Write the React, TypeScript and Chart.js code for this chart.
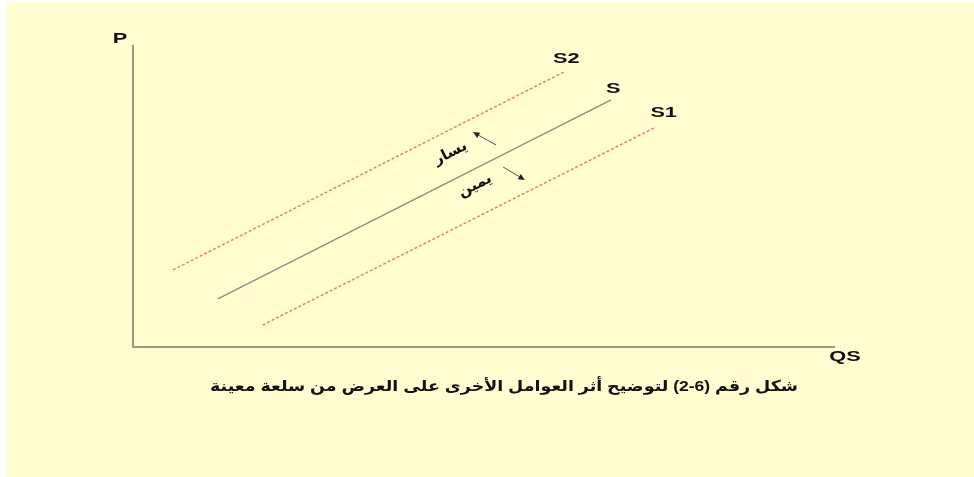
import { useEffect, useRef } from "react";
import { Chart, registerables } from "chart.js";

Chart.register(...registerables);

// ---- Data ----
const curveNames = ["S2", "S", "S1"];
const curveQStart = [5.7, 12.1, 18.5];
const curveQEnd = [61.5, 68.2, 74.6];
const curvePStart = [25.6, 16.0, 7.3];
const curvePEnd = [91.4, 82.1, 73.1];
const curveLabelQ = [61.8, 68.5, 75.7];
const curveLabelP = [95.7, 85.7, 77.7];

const shiftTexts = ["يسار", "يمين"];
const shiftTextQ = [45.3, 48.8];
const shiftTextP = [64.4, 53.6];
const arrowFromQ = [51.8, 52.8];
const arrowFromP = [67.1, 59.8];
const arrowToQ = [48.5, 55.9];
const arrowToP = [71.4, 55.5];

const axisTitleX = "QS";
const axisTitleY = "P";
const caption = "شكل رقم (6-2) لتوضيح أثر العوامل الأخرى على العرض من سلعة معينة";

const BG = "#FFFDD0";
const AXIS_COLOR = "#9a9a88";
const SOLID_COLOR = "#8c8c82";
const SHIFT_COLOR = "#f47c6c";

function drawText(
  ctx: CanvasRenderingContext2D,
  text: string,
  x: number,
  y: number,
  font: string,
  sx: number,
  color: string,
  rot = 0,
  rtl = false,
  align: CanvasTextAlign = "center"
) {
  ctx.save();
  ctx.translate(x, y);
  ctx.rotate(rot);
  ctx.scale(sx, 1);
  ctx.font = font;
  ctx.fillStyle = color;
  ctx.textAlign = align;
  ctx.textBaseline = "middle";
  (ctx as any).direction = rtl ? "rtl" : "ltr";
  ctx.fillText(text, 0, 0);
  ctx.restore();
}

const annotationPlugin = {
  id: "annotations",
  afterDatasetsDraw(chart: any) {
    const ctx: CanvasRenderingContext2D = chart.ctx;
    const xs = chart.scales.x;
    const ys = chart.scales.y;
    const area = chart.chartArea;
    const latin = "bold 14px Arial, 'Liberation Sans', sans-serif";

    // curve labels
    curveNames.forEach((n, i) => {
      drawText(ctx, n, xs.getPixelForValue(curveLabelQ[i]), ys.getPixelForValue(curveLabelP[i]), latin, 1.55, "#111");
    });

    // axis titles
    drawText(ctx, axisTitleY, area.left - 13, area.top - 7, "bold 15px Arial, 'Liberation Sans', sans-serif", 1.45, "#111");
    drawText(ctx, axisTitleX, area.right + 11, area.bottom + 10, "bold 15px Arial, 'Liberation Sans', sans-serif", 1.45, "#111");

    // slope angle of S line
    const dx = xs.getPixelForValue(curveQEnd[1]) - xs.getPixelForValue(curveQStart[1]);
    const dy = ys.getPixelForValue(curvePEnd[1]) - ys.getPixelForValue(curvePStart[1]);
    const ang = Math.atan2(dy, dx);

    // shift labels
    shiftTexts.forEach((t, i) => {
      drawText(ctx, t, xs.getPixelForValue(shiftTextQ[i]), ys.getPixelForValue(shiftTextP[i]), "bold 15px 'DejaVu Sans', sans-serif", 1, "#111", ang, true);
    });

    // arrows
    arrowFromQ.forEach((_, i) => {
      const x1 = xs.getPixelForValue(arrowFromQ[i]);
      const y1 = ys.getPixelForValue(arrowFromP[i]);
      const x2 = xs.getPixelForValue(arrowToQ[i]);
      const y2 = ys.getPixelForValue(arrowToP[i]);
      const a = Math.atan2(y2 - y1, x2 - x1);
      ctx.save();
      ctx.strokeStyle = "#555";
      ctx.fillStyle = "#222";
      ctx.lineWidth = 1;
      ctx.beginPath();
      ctx.moveTo(x1, y1);
      ctx.lineTo(x2 - 4 * Math.cos(a), y2 - 4 * Math.sin(a));
      ctx.stroke();
      const hl = 6.5, hw = 3;
      ctx.beginPath();
      ctx.moveTo(x2, y2);
      ctx.lineTo(x2 - hl * Math.cos(a) + hw * Math.sin(a), y2 - hl * Math.sin(a) - hw * Math.cos(a));
      ctx.lineTo(x2 - hl * Math.cos(a) - hw * Math.sin(a), y2 - hl * Math.sin(a) + hw * Math.cos(a));
      ctx.closePath();
      ctx.fill();
      ctx.restore();
    });

    // caption (right-aligned, stretched to reference width)
    ctx.save();
    const capFont = "bold 15px Arial, 'DejaVu Sans', sans-serif";
    ctx.font = capFont;
    (ctx as any).direction = "rtl";
    const w = ctx.measureText(caption).width;
    ctx.restore();
    const targetW = 588;
    const sx = targetW / w;
    const capRight = area.right - 36;
    drawText(ctx, caption, capRight - targetW / 2, area.bottom + 40, capFont, sx, "#111", 0, true);
  },
};

export default function App() {
  const ref = useRef<HTMLCanvasElement | null>(null);

  useEffect(() => {
    if (!ref.current) return;
    const datasets = curveNames.map((n, i) => ({
      label: n,
      data: [
        { x: curveQStart[i], y: curvePStart[i] },
        { x: curveQEnd[i], y: curvePEnd[i] },
      ],
      showLine: true,
      pointRadius: 0,
      borderColor: n === "S" ? SOLID_COLOR : SHIFT_COLOR,
      borderWidth: n === "S" ? 1.3 : 1.5,
      borderDash: n === "S" ? [] : [3, 2],
      fill: false,
    }));
    const chart = new Chart(ref.current, {
      type: "scatter",
      data: { datasets },
      options: {
        animation: false,
        responsive: false,
        layout: { padding: { left: 126, top: 44, right: 140, bottom: 130 } },
        plugins: { legend: { display: false }, tooltip: { enabled: false } },
        scales: {
          x: {
            type: "linear",
            min: 0,
            max: 100,
            ticks: { display: false },
            grid: { display: false, drawTicks: false },
            border: { display: true, color: AXIS_COLOR, width: 2 },
          },
          y: {
            type: "linear",
            min: 0,
            max: 100,
            ticks: { display: false },
            grid: { display: false, drawTicks: false },
            border: { display: true, color: AXIS_COLOR, width: 2 },
          },
        },
      } as any,
      plugins: [annotationPlugin],
    });
    return () => chart.destroy();
  }, []);

  return (
    <div
      style={{
        position: "absolute",
        left: 7,
        top: 2,
        width: 967,
        height: 475,
        background: BG,
      }}
    >
      <canvas ref={ref} width={967} height={475} style={{ display: "block" }} />
    </div>
  );
}
